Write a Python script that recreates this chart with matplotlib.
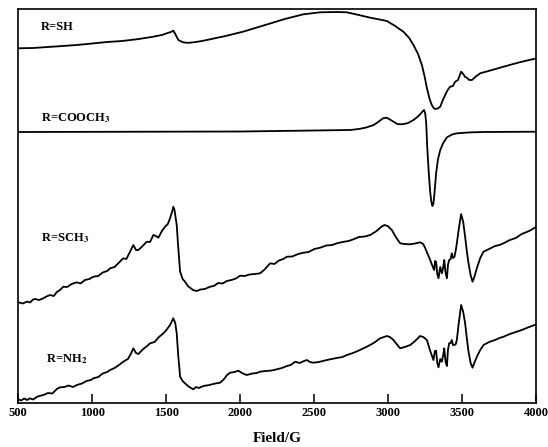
import matplotlib
matplotlib.use("Agg")
import matplotlib.pyplot as plt

plt.rcParams['font.family'] = ['Liberation Serif', 'DejaVu Serif']
plt.rcParams['font.weight'] = 'bold'
plt.rcParams['mathtext.fontset'] = 'stix'

# Field (G) and intensity (a.u., already offset for stacking)
sh_field = [500, 600, 700, 800, 895, 1000, 1100, 1200, 1300, 1400, 1470, 1503, 1530, 1547,
            1560, 1581, 1610, 1640, 1660, 1700, 1750, 1795, 1900, 2018, 2100, 2201, 2300,
            2426, 2539, 2650, 2719, 2800, 2877, 2940, 2989, 3040, 3101, 3140, 3169, 3200,
            3226, 3245, 3260, 3278, 3293, 3305, 3316, 3333, 3350, 3365, 3383, 3400, 3417,
            3435, 3451, 3470, 3480, 3491, 3505, 3518, 3530, 3545, 3564, 3590, 3620, 3700,
            3777, 3880, 4000]
sh_int = [398.7, 399, 400, 401, 402, 403.5, 405, 406, 407.7, 410, 412, 413.7, 415, 416.3,
          413, 407, 404.8, 404.2, 404.3, 405, 406.3, 407.7, 411, 415.3, 419, 423.5, 428,
          432.7, 434.7, 435, 434.7, 432, 429.3, 427.5, 426, 421.5, 415.3, 409, 402, 393,
          382, 370, 358.7, 348, 342, 339, 338, 338.5, 340.3, 346, 352, 357, 360.3,
          361, 365.3, 367, 371, 375.3, 373, 370, 369.3, 367, 367, 370.5, 373.7, 377,
          380.3, 384.5, 388.7]

cooch3_field = [500, 2000, 2741, 2800, 2850, 2900, 2933, 2965, 2989, 3010, 3034, 3060, 3091,
                3130, 3169, 3195, 3214, 3230, 3240, 3248, 3255, 3262, 3272, 3282, 3290, 3297,
                3303, 3310, 3322, 3335, 3350, 3370, 3395, 3430, 3462, 3550, 3642, 4000]
cooch3_int = [315, 315.5, 317, 318, 319.5, 322, 325.3, 328.8, 329.3, 327.5, 325.3, 323, 322.7,
              323.8, 327, 330, 332.7, 335.5, 337, 334, 324, 300, 275, 255, 245, 241,
              243, 252, 273.7, 288, 297, 304, 309.7, 312.5, 313.7, 314.6, 315, 315.3]

sch3_field = [500, 530, 560, 579, 600, 613, 640, 669, 690, 714, 740, 760, 782, 804, 830, 860,
              895, 920, 950, 980, 1007, 1040, 1070, 1100, 1120, 1150, 1180, 1209, 1230, 1250,
              1277, 1295, 1311, 1340, 1368, 1390, 1412, 1430, 1446, 1470, 1491, 1510, 1525,
              1540, 1547, 1555, 1570, 1580, 1593, 1610, 1626, 1645, 1660, 1680, 1705, 1730,
              1760, 1795, 1820, 1850, 1880, 1908, 1940, 1970, 1998, 2030, 2060, 2100, 2133,
              2160, 2201, 2230, 2260, 2290, 2314, 2350, 2390, 2426, 2460, 2500, 2539, 2580,
              2620, 2651, 2690, 2730, 2764, 2800, 2840, 2877, 2920, 2950, 2973, 2995, 3023,
              3050, 3079, 3110, 3147, 3180, 3214, 3235, 3249, 3265, 3282, 3300, 3309, 3315,
              3322, 3330, 3338, 3350, 3361, 3370, 3377, 3385, 3395, 3402, 3410, 3420, 3428,
              3436, 3446, 3455, 3462, 3475, 3491, 3505, 3518, 3530, 3541, 3555, 3568, 3580,
              3597, 3620, 3642, 3680, 3720, 3750, 3777, 3820, 3860, 3900, 3950, 4000]
sch3_int = [144.7, 143.5, 145.5, 144.5, 147.5, 148, 147, 148.7, 150.5, 152, 151, 155, 157,
            160.3, 160, 163, 164.7, 163.5, 167, 168, 170.3, 171, 174.5, 176, 178.7, 180,
            184.5, 188.7, 188, 194, 202, 197, 197, 201, 205.3, 205, 212, 211, 209.3, 216,
            220.3, 223, 228.7, 236, 240.3, 237, 222, 200, 175.3, 168, 165.3, 161, 159.3, 157,
            156, 157.5, 158, 160.3, 161, 164, 163.5, 166, 167, 168.5, 171.3, 171, 172.5, 173,
            173.7, 177, 183.7, 183, 186.5, 188, 190.3, 190.5, 193, 194.3, 195, 198, 199.3,
            201.5, 202, 203.7, 205, 206, 207.7, 210, 210.5, 212, 216, 220, 222, 221, 217,
            210, 203.7, 203, 202.7, 203.5, 204.7, 203, 198.7, 193, 187, 180, 177, 186,
            185.3, 173, 168.7, 180, 173.7, 180, 187, 175, 168.7, 182, 187, 188, 193.7,
            189, 190.3, 197, 203.7, 218, 233, 225, 210.3, 195, 183.7, 172, 165.3, 170,
            178.7, 189, 195.3, 198, 201, 202, 203.7, 207, 209, 213, 216, 220.3]

nh2_field = [500, 520, 540, 560, 579, 600, 630, 669, 700, 730, 760, 782, 810, 840, 870, 895,
             930, 960, 990, 1007, 1040, 1070, 1100, 1120, 1150, 1180, 1209, 1240, 1260, 1277,
             1295, 1311, 1340, 1370, 1390, 1420, 1450, 1480, 1500, 1525, 1547, 1560, 1570,
             1580, 1593, 1610, 1626, 1650, 1682, 1700, 1720, 1750, 1790, 1830, 1863, 1890,
             1910, 1930, 1960, 1987, 2010, 2043, 2080, 2110, 2133, 2170, 2210, 2246, 2280,
             2314, 2340, 2370, 2400, 2430, 2449, 2470, 2493, 2530, 2570, 2606, 2650, 2690,
             2719, 2760, 2800, 2854, 2900, 2944, 2970, 2989, 3010, 3034, 3055, 3079, 3110,
             3147, 3180, 3214, 3235, 3260, 3280, 3304, 3314, 3322, 3330, 3338, 3350, 3361,
             3370, 3377, 3386, 3395, 3402, 3410, 3420, 3428, 3436, 3446, 3455, 3462, 3475,
             3491, 3505, 3518, 3530, 3541, 3555, 3568, 3580, 3597, 3620, 3642, 3680, 3720,
             3750, 3777, 3820, 3860, 3900, 3950, 4000]
nh2_int = [47.7, 46.5, 48.5, 47, 48.7, 47.5, 50.5, 52, 54, 53.5, 58, 59.7, 60, 61.5, 60, 62,
           63.5, 66, 67, 68.7, 70, 73.5, 75, 77, 79, 82, 85.3, 88, 93, 98.7, 94, 93, 97.5,
           101, 103.7, 105, 110, 113.7, 117, 122, 128.7, 124, 113.7, 92, 70.3, 66, 63.7,
           60.5, 57.7, 60, 59, 61, 62, 63.5, 64.3, 68, 72, 74.3, 75, 76.3, 74, 72, 73.5, 74,
           75.3, 76, 76.5, 77.7, 79, 81, 82, 85.3, 84, 86, 87, 85, 84.3, 85, 86.5, 87.7, 89,
           90, 92, 94, 96.5, 100.3, 104, 108.7, 110, 111, 110, 107, 103, 98.7, 100, 102,
           106, 111, 110, 107, 97, 87, 96, 96.3, 84, 79.7, 88, 85.3, 92, 98.7, 85, 81, 97,
           103.7, 104, 107, 102, 102, 103, 107, 124, 142, 135, 123.7, 108, 95.3, 84, 79.3,
           84, 90.3, 97, 102, 105, 107, 109, 110.3, 113, 115, 117, 120, 122.7]

labels = ["R=SH", "R=COOCH$_\\mathbf{3}$", "R=SCH$_\\mathbf{3}$", "R=NH$_\\mathbf{2}$"]
label_field = [650, 650, 650, 690]
label_int = [419.5, 329, 209, 88]

xticks = [500, 1000, 1500, 2000, 2500, 3000, 3500, 4000]

fig = plt.figure(figsize=(5.48, 4.47), dpi=100)
ax = fig.add_axes([0.0334, 0.0984, 0.9456, 0.8808])

for f, i in [(sh_field, sh_int), (cooch3_field, cooch3_int),
             (sch3_field, sch3_int), (nh2_field, nh2_int)]:
    ax.plot(f, i, color='black', lw=1.3)

for t, fx, iy in zip(labels, label_field, label_int):
    ax.text(fx, iy, t, fontsize=9, fontweight='bold', va='center', ha='left')

ax.set_xlim(500, 4000)
ax.set_ylim(44, 437.7)
ax.set_xticks(xticks)
ax.set_xticklabels([str(v) for v in xticks], fontsize=9, fontweight='bold')
ax.set_yticks([])
ax.tick_params(axis='x', direction='in', length=6.5, width=1.1, pad=3)
for s in ax.spines.values():
    s.set_linewidth(1.2)
ax.set_xlabel("Field/G", fontsize=11, fontweight='bold', labelpad=9)

fig.savefig("out.png", dpi=100)
